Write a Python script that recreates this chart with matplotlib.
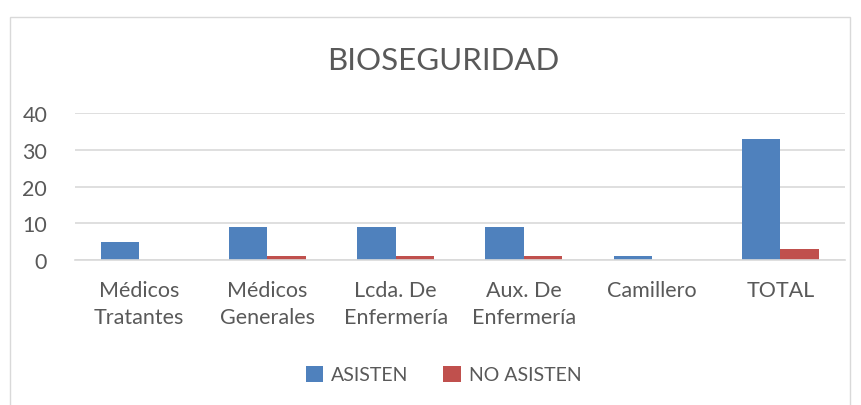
import numpy as np
import matplotlib.pyplot as plt
from matplotlib.patches import Rectangle

categorias = ['Médicos\nTratantes', 'Médicos\nGenerales', 'Lcda. De\nEnfermería',
              'Aux. De\nEnfermería', 'Camillero', 'TOTAL']
asisten = [5, 9, 9, 9, 1, 33]
no_asisten = [0, 1, 1, 1, 0, 3]

plt.rcParams['font.family'] = ['Lato', 'DejaVu Sans']
gris = '#595959'

fig = plt.figure(figsize=(8.61, 4.06), dpi=100)
ax = fig.add_axes([0.087, 0.357, 0.894, 0.362])

# marco del gráfico
fig.patches.append(Rectangle((0.012, -0.1), 0.975, 1.055, transform=fig.transFigure,
                             fill=False, edgecolor='#d9d9d9', linewidth=1))

x = np.arange(len(categorias))
w = 0.3
ax.bar(x - w / 2, asisten, w, color='#4f81bd', label='ASISTEN')
ax.bar(x + w / 2, no_asisten, w, color='#c0504d', label='NO ASISTEN')

ax.set_xlim(-0.5, len(categorias) - 0.5)
ax.set_ylim(0, 40)
ax.set_yticks([0, 10, 20, 30, 40])
ax.set_xticks(x)
ax.set_xticklabels(categorias, fontsize=15.5, color=gris, linespacing=1.45)
ax.tick_params(axis='y', labelsize=15.5, labelcolor=gris, length=0, pad=20)
ax.tick_params(axis='x', length=0, pad=14)
ax.grid(axis='y', color='#d9d9d9', linewidth=1.2)
ax.set_axisbelow(True)
for s in ['top', 'right', 'left']:
    ax.spines[s].set_visible(False)
ax.spines['bottom'].set_color('#d9d9d9')
ax.spines['bottom'].set_linewidth(1.2)

fig.text(0.515, 0.85, 'BIOSEGURIDAD', ha='center', va='center', fontsize=22.5, color=gris)

fig.legend(loc='center', bbox_to_anchor=(0.515, 0.075), ncol=2, frameon=False,
           fontsize=14, labelcolor=gris, handlelength=0.9, handleheight=0.9,
           columnspacing=1.8, handletextpad=0.4)

fig.savefig('out.png', dpi=100)
